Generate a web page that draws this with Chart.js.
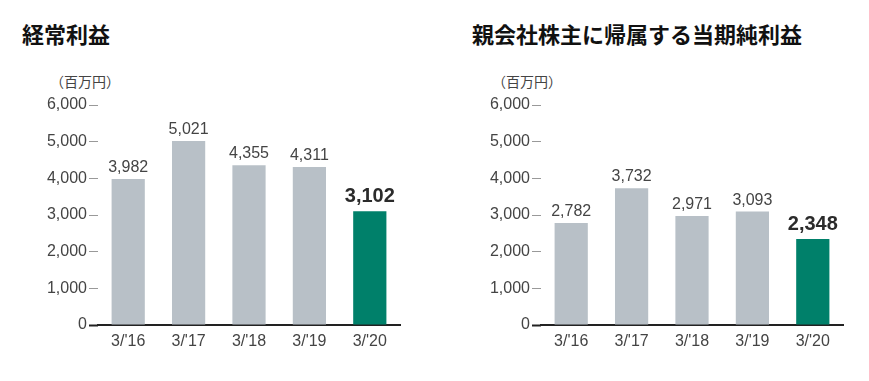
<!DOCTYPE html>
<html><head><meta charset="utf-8">
<script src="https://cdn.jsdelivr.net/npm/chart.js@4.4.1/dist/chart.umd.min.js"></script>
<style>
html,body{margin:0;padding:0;background:#fff;width:869px;height:381px;overflow:hidden;}
.t{position:absolute;font-family:"Noto Sans CJK JP",sans-serif;font-weight:bold;font-size:22px;color:#111;line-height:1;white-space:nowrap;}
.u{position:absolute;font-family:"Noto Sans CJK JP",sans-serif;font-size:14px;color:#444;line-height:1;white-space:nowrap;}
.c{position:absolute;top:60px;height:300px;}
</style></head><body>
<div class="t" style="left:22px;top:22px;">経常利益</div>
<div class="t" style="left:472px;top:22px;">親会社株主に帰属する当期純利益</div>
<div class="u" style="left:50px;top:74px;">（百万円）</div>
<div class="u" style="left:492px;top:74px;">（百万円）</div>
<div class="c" style="left:0;width:430px;"><canvas id="c1"></canvas></div>
<div class="c" style="left:440px;width:429px;"><canvas id="c2"></canvas></div>
<script>
const categories = ["3/'16", "3/'17", "3/'18", "3/'19", "3/'20"];
const ordinaryProfit = [3982, 5021, 4355, 4311, 3102];
const netProfit = [2782, 3732, 2971, 3093, 2348];
const yTicks = [0, 1000, 2000, 3000, 4000, 5000, 6000];
const barColors = ["#b8c0c7", "#b8c0c7", "#b8c0c7", "#b8c0c7", "#00806a"];

const FONT = '"Liberation Sans Narrow","Liberation Sans",Arial,sans-serif';

const valueLabels = {
  id: 'valueLabels',
  afterDatasetsDraw(chart) {
    const ctx = chart.ctx;
    const meta = chart.getDatasetMeta(0);
    const data = chart.data.datasets[0].data;
    ctx.save();
    ctx.textAlign = 'center';
    ctx.textBaseline = 'alphabetic';
    meta.data.forEach((bar, i) => {
      const last = i === data.length - 1;
      ctx.font = (last ? 'bold 20px ' : '16px ') + FONT;
      ctx.fillStyle = last ? '#2b2b2b' : '#444';
      ctx.fillText(data[i].toLocaleString('en-US'), bar.x, bar.y - (last ? 9 : 7));
    });
    ctx.restore();
  }
};

function makeChart(id, values, leftW, rightPad) {
  return new Chart(document.getElementById(id), {
    type: 'bar',
    data: {
      labels: categories,
      datasets: [{
        data: values,
        backgroundColor: barColors,
        borderWidth: 0,
        barPercentage: 0.55,
        categoryPercentage: 1.0
      }]
    },
    options: {
      responsive: true,
      maintainAspectRatio: false,
      animation: false,
      events: [],
      layout: { padding: { top: 45, right: rightPad, left: 0, bottom: 0 } },
      plugins: { legend: { display: false }, tooltip: { enabled: false } },
      scales: {
        x: {
          grid: { drawOnChartArea: false, drawTicks: false },
          border: { display: true, color: '#222', width: 2 },
          ticks: { color: '#444', font: { family: FONT, size: 16 }, padding: 7 },
          afterFit(s) { s.height = 35; }
        },
        y: {
          min: 0, max: 6000,
          afterBuildTicks(s) { s.ticks = yTicks.map(v => ({ value: v })); },
          grid: {
            drawOnChartArea: false, drawTicks: true, tickLength: 9,
            tickColor: c => c.tick && c.tick.value === 0 ? '#222' : '#999',
            tickWidth: c => c.tick && c.tick.value === 0 ? 2 : 1
          },
          border: { display: false },
          ticks: {
            color: '#444', font: { family: FONT, size: 16 }, padding: 2,
            callback: v => v.toLocaleString('en-US')
          },
          afterFit(s) { s.width = leftW; }
        }
      }
    },
    plugins: [valueLabels]
  });
}
makeChart('c1', ordinaryProfit, 98, 30);
makeChart('c2', netProfit, 101, 26);
</script>
</body></html>
